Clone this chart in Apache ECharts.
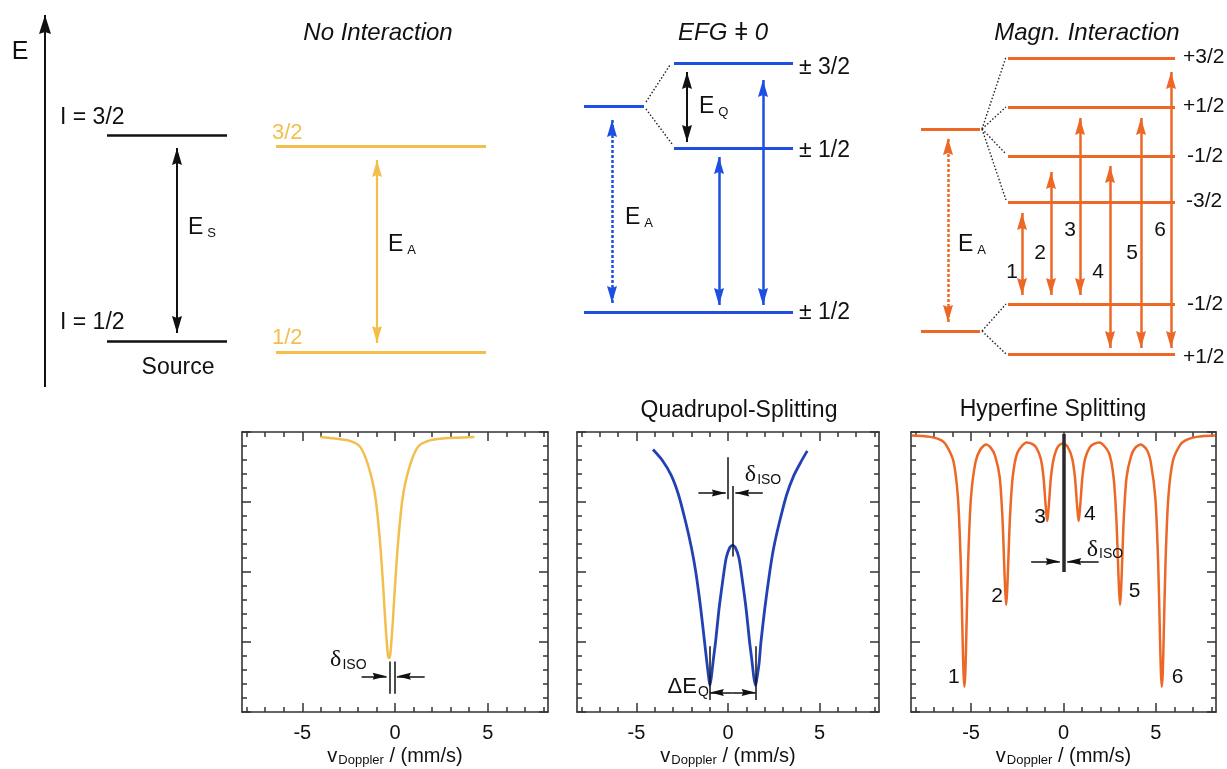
<!DOCTYPE html>
<html>
<head>
<meta charset="utf-8">
<script src="https://cdn.jsdelivr.net/npm/echarts@6/dist/echarts.min.js"></script>
<style>
  html, body { margin: 0; padding: 0; background: #fff; }
  #chart { width: 1227px; height: 769px; }
</style>
</head>
<body>
<div id="chart"></div>
<script>
// ---------------------------------------------------------------------------
// Level scheme: horizontal position (0–1227) and energy E (0–400, upward)
// levels: [x start, x end, E]
const sourceLevels = [[107, 227, 265], [107, 227, 59]];
const bareLevels = [[276, 486, 254], [276, 486, 48]];
const quadLevels = [[584, 644, 294], [674, 793, 337], [674, 793, 252], [584, 793, 88]];
const magnLevels = [[921, 980, 271], [921, 980, 69],
  [1008, 1175, 342], [1008, 1175, 293], [1008, 1175, 244], [1008, 1175, 198],
  [1008, 1175, 96], [1008, 1175, 46]];
// splitting guides: [x0, E0, x1, E1]
const quadSplitLinks = [[646, 298, 670, 335], [646, 291, 672, 256]];
const magnSplitLinks = [[982, 271, 1006, 343], [982, 271, 1006, 293], [982, 271, 1006, 246],
  [982, 271, 1006, 200], [982, 69, 1006, 96], [982, 69, 1006, 46]];
// transitions: [x, E low tip, E high tip]
const energyAxis = [[45, 13, 385]];
const sourceTransition = [[177, 67, 252]];
const bareTransition = [[377, 57, 240]];
const quadSplitGap = [[687, 258, 328]];
const quadMeanTransition = [[612, 97, 280]];
const quadTransitions = [[719, 95, 243], [763, 95, 320]];
const magnMeanTransition = [[948, 78, 262]];
const magnTransitions = [[1022, 105, 187], [1051, 105, 228], [1080, 105, 282],
  [1110, 52, 234], [1141, 52, 282], [1171, 52, 328]];
// texts of the level scheme: [x, E, text, align, style]
const diagramLabels = [
  [20, 348, 'E', 'center', 'big'],
  [60, 282, 'I = 3/2', 'left', 'large'],
  [60, 77, 'I = 1/2', 'left', 'large'],
  [178, 32, 'Source', 'center', 'large'],
  [188, 172, '{e|E}{s|S}', 'left', 'ink'],
  [272, 267, '3/2', 'left', 'yellow'],
  [272, 62, '1/2', 'left', 'yellow'],
  [388, 155, '{e|E}{s|A}', 'left', 'ink'],
  [699, 293, '{e|E}{s|Q}', 'left', 'ink'],
  [625, 182, '{e|E}{s|A}', 'left', 'ink'],
  [799, 332, '± 3/2', 'left', 'large'],
  [799, 249, '± 1/2', 'left', 'large'],
  [799, 87, '± 1/2', 'left', 'large'],
  [958, 155, '{e|E}{s|A}', 'left', 'ink'],
  [1183, 343, '+3/2', 'left', 'ink'],
  [1183, 294, '+1/2', 'left', 'ink'],
  [1187, 244, '-1/2', 'left', 'ink'],
  [1186, 199, '-3/2', 'left', 'ink'],
  [1187, 96, '-1/2', 'left', 'ink'],
  [1183, 43, '+1/2', 'left', 'ink'],
  [1012, 128, '1', 'center', 'ink'],
  [1040, 147, '2', 'center', 'ink'],
  [1070, 170, '3', 'center', 'ink'],
  [1098, 128, '4', 'center', 'ink'],
  [1132, 147, '5', 'center', 'ink'],
  [1160, 170, '6', 'center', 'ink']
];
const panelTitles = [
  ['No Interaction', 378, 33, true],
  ['EFG ǂ 0', 723, 33, true],
  ['Magn. Interaction', 1087, 33, true],
  ['Quadrupol-Splitting', 739, 411, false],
  ['Hyperfine Splitting', 1053, 410, false]
];

// ---------------------------------------------------------------------------
// Spectra: transmission (a.u.) versus Doppler velocity (mm/s)
const velocityMajor = [-5, 0, 5];
const velocityMinor = [-8, -7, -6, -4, -3, -2, -1, 1, 2, 3, 4, 6, 7, 8];
const singleLine = [
  [-4.02, 3.93], [-3.32, 3.91], [-2.52, 3.88], [-1.92, 3.80], [-1.57, 3.62], [-1.22, 3.30],
  [-1.02, 3.00], [-0.82, 2.47], [-0.72, 2.12], [-0.62, 1.72], [-0.52, 1.28], [-0.42, 0.92],
  [-0.37, 0.80], [-0.32, 0.77], [-0.27, 0.80], [-0.22, 0.92], [-0.12, 1.28], [-0.02, 1.72],
  [0.08, 2.12], [0.18, 2.47], [0.38, 3.00], [0.58, 3.30], [0.93, 3.62], [1.28, 3.80],
  [1.88, 3.88], [2.68, 3.91], [4.28, 3.93]
];
const quadDoublet = [
  [-4.10, 3.75], [-3.60, 3.60], [-3.10, 3.38], [-2.70, 3.10], [-2.30, 2.70], [-2.00, 2.35],
  [-1.76, 2.00], [-1.50, 1.50], [-1.28, 1.00], [-1.15, 0.70], [-1.05, 0.48], [-0.99, 0.38],
  [-0.92, 0.48], [-0.80, 0.75], [-0.68, 1.00], [-0.50, 1.45], [-0.30, 1.85], [-0.10, 2.20],
  [0.10, 2.35], [0.25, 2.38], [0.40, 2.35], [0.60, 2.20], [0.80, 1.85], [1.00, 1.45],
  [1.18, 1.00], [1.30, 0.75], [1.42, 0.48], [1.51, 0.38], [1.58, 0.48], [1.70, 0.70],
  [1.80, 1.00], [2.02, 1.50], [2.28, 2.00], [2.50, 2.35], [2.80, 2.70], [3.20, 3.10],
  [3.60, 3.38], [4.00, 3.58], [4.33, 3.73]
];
const hyperSextet = [
  [-8.2, 3.95], [-7.5, 3.94], [-7.0, 3.92], [-6.6, 3.88], [-6.36, 3.82], [-5.96, 3.59],
  [-5.71, 3.06], [-5.56, 2.15], [-5.46, 1.07], [-5.41, 0.56], [-5.36, 0.36], [-5.31, 0.56],
  [-5.26, 1.07], [-5.16, 2.14], [-5.01, 3.05], [-4.76, 3.57], [-4.5, 3.75], [-4.2, 3.82],
  [-3.95, 3.78], [-3.7, 3.66], [-3.45, 3.35], [-3.3, 2.76], [-3.2, 2.05], [-3.15, 1.72],
  [-3.1, 1.53], [-3.05, 1.72], [-3.0, 2.05], [-2.9, 2.76], [-2.75, 3.35], [-2.5, 3.7],
  [-2.0, 3.85], [-1.7, 3.83], [-1.48, 3.78], [-1.23, 3.62], [-1.08, 3.35], [-0.98, 3.0],
  [-0.93, 2.84], [-0.88, 2.73], [-0.83, 2.84], [-0.78, 3.0], [-0.68, 3.35], [-0.53, 3.62],
  [-0.3, 3.79], [-0.03, 3.84], [0.22, 3.79], [0.47, 3.62], [0.62, 3.35], [0.72, 3.0],
  [0.77, 2.84], [0.82, 2.73], [0.87, 2.84], [0.92, 3.0], [1.02, 3.35], [1.17, 3.62],
  [1.42, 3.78], [1.65, 3.83], [1.94, 3.85], [2.46, 3.7], [2.71, 3.35], [2.86, 2.76],
  [2.96, 2.05], [3.01, 1.72], [3.06, 1.53], [3.11, 1.72], [3.16, 2.05], [3.26, 2.76],
  [3.41, 3.35], [3.66, 3.66], [3.9, 3.78], [4.18, 3.82], [4.5, 3.75], [4.72, 3.57],
  [4.97, 3.05], [5.12, 2.14], [5.22, 1.07], [5.27, 0.56], [5.32, 0.36], [5.37, 0.56],
  [5.42, 1.07], [5.52, 2.15], [5.67, 3.06], [5.92, 3.59], [6.32, 3.82], [6.6, 3.88],
  [7.0, 3.92], [7.5, 3.94], [8.2, 3.95]
];
// spectrum annotations
const singleIsoBars = [[-0.3, 0.26, 0.72], [0.0, 0.26, 0.72]];        // [x, y0, y1]
const singleIsoArrows = [[-1.8, -0.45, 0.51], [1.6, 0.1, 0.51]];      // [tail x, tip x, y]
const singleTexts = [[-3.5, 0.74, '{d|δ}{s|ISO}', 'left']];
const quadIsoBars = [[0.0, 3.04, 3.64], [0.26, 2.22, 3.23]];
const quadIsoArrows = [[-1.62, -0.12, 3.13], [1.9, 0.4, 3.13]];
const quadSplitBars = [[-0.99, 0.17, 0.94], [1.51, 0.17, 0.94]];
const quadSplitArrows = [[0.26, -0.99, 0.28], [0.26, 1.51, 0.28]];
const quadTexts = [[0.92, 3.39, '{d|δ}{s|ISO}', 'left'], [-1.05, 0.36, '{q|ΔE}{s|Q}', 'right']];
const hyperIsoBars = [[0.0, 2.0, 3.97]];
const hyperIsoArrows = [[-1.75, -0.2, 2.15], [1.9, 0.2, 2.15]];
const hyperTexts = [[1.26, 2.32, '{d|δ}{s|ISO}', 'left'],
  [-5.93, 0.5, '1', 'center'], [-3.59, 1.65, '2', 'center'], [-1.26, 2.78, '3', 'center'],
  [1.42, 2.82, '4', 'center'], [3.84, 1.72, '5', 'center'], [6.17, 0.5, '6', 'center']];

// ---------------------------------------------------------------------------
const FONT = "'Liberation Sans', Arial, sans-serif";
const SERIF = "'Liberation Serif', 'DejaVu Serif', serif";
const INK = '#111111';
const FRAME = '#333333';
const YELLOW = '#f2bf4c';
const BLUE = '#1c4fe2';
const BLUE_CURVE = '#2242b4';
const ORANGE = '#ec6826';
const VMIN = -8.25, VMAX = 8.25;

const HEAD = {
  up: 'path://M0,0 L6,18 L0,16 L-6,18 Z',
  down: 'path://M0,18 L6,0 L0,2 L-6,0 Z',
  right: 'path://M18,0 L0,6 L2,0 L0,-6 Z',
  left: 'path://M0,0 L18,-6 L16,0 L18,6 Z'
};

function axesOf(p) { return { xAxisIndex: p.x, yAxisIndex: p.y }; }
const DIAGRAM = { x: 0, y: 0 };
const PANELS = [{ x: 1, y: 1 }, { x: 5, y: 3 }, { x: 9, y: 5 }];

function segments(ax, segs, color, width, dash, z) {
  return Object.assign({
    type: 'lines', coordinateSystem: 'cartesian2d', silent: true, z: z || 3,
    lineStyle: { color, width, opacity: 1, curveness: 0, type: dash || 'solid' },
    data: segs.map(c => ({ coords: c }))
  }, axesOf(ax));
}

function heads(ax, pts, color, w, h) {
  return Object.assign({
    type: 'scatter', silent: true, z: 6,
    itemStyle: { color, opacity: 1 },
    data: pts.map(([x, y, dir]) => {
      const vertical = dir === 'up' || dir === 'down';
      const off = dir === 'up' ? [0, h / 2] : dir === 'down' ? [0, -h / 2]
        : dir === 'right' ? [-h / 2, 0] : [h / 2, 0];
      return { value: [x, y], symbol: HEAD[dir], symbolSize: vertical ? [w, h] : [h, w], symbolOffset: off };
    })
  }, axesOf(ax));
}

// vertical double (or single) arrows
function vArrows(ax, list, color, width, w, h, dash, single) {
  const pts = [];
  list.forEach(([x, lo, hi]) => {
    pts.push([x, hi, 'up']);
    if (!single) pts.push([x, lo, 'down']);
  });
  return [
    segments(ax, list.map(([x, lo, hi]) => [[x, lo], [x, hi]]), color, width, dash, 4),
    heads(ax, pts, color, w, h)
  ];
}

// horizontal arrows [tail, tip, y]
function hArrows(ax, list, color, width, w, h) {
  return [
    segments(ax, list.map(([a, b, y]) => [[a, y], [b, y]]), color, width, null, 4),
    heads(ax, list.map(([a, b, y]) => [b, y, b > a ? 'right' : 'left']), color, w, h)
  ];
}

function bars(ax, list, color, width) {
  return segments(ax, list.map(([x, a, b]) => [[x, a], [x, b]]), color, width, null, 4);
}

const textStyles = {
  ink: { fontSize: 21, color: INK },
  large: { fontSize: 23, color: INK },
  big: { fontSize: 25, color: INK },
  yellow: { fontSize: 22, color: YELLOW }
};
const subRich = {
  e: { fontSize: 23, color: INK, fontFamily: FONT },
  s: { fontSize: 13, color: INK, fontFamily: FONT, padding: [11, 0, 0, 4] }
};

function texts(ax, list) {
  return Object.assign({
    type: 'scatter', silent: true, z: 7, symbolSize: 1,
    itemStyle: { color: 'rgba(0,0,0,0)', opacity: 1 },
    label: { show: true, position: 'inside', verticalAlign: 'middle', fontFamily: FONT, rich: subRich },
    data: list.map(([x, y, t, align, st]) => ({
      value: [x, y],
      label: Object.assign({ formatter: t, align }, textStyles[st || 'ink'])
    }))
  }, axesOf(ax));
}

function plotTexts(ax, list) {
  const isoRich = {
    d: { fontSize: 24, color: INK, fontFamily: SERIF },
    q: { fontSize: 22, color: INK, fontFamily: FONT },
    s: { fontSize: 14, color: INK, fontFamily: FONT, padding: [10, 0, 0, 1] }
  };
  return Object.assign({
    type: 'scatter', silent: true, z: 7, symbolSize: 1,
    itemStyle: { color: 'rgba(0,0,0,0)', opacity: 1 },
    label: { show: true, position: 'inside', verticalAlign: 'middle', fontFamily: FONT, fontSize: 21, color: INK, rich: isoRich },
    data: list.map(([x, y, t, align]) => ({ value: [x, y], label: { formatter: t, align } }))
  }, axesOf(ax));
}

function levelLines(levels, color, width) {
  return segments(DIAGRAM, levels.map(([a, b, e]) => [[a, e], [b, e]]), color, width, null, 3);
}
function links(list) {
  return segments(DIAGRAM, list.map(([a, e0, b, e1]) => [[a, e0], [b, e1]]), '#222', 1.4, [1.5, 2], 2);
}

function curve(ax, data, color, width) {
  return Object.assign({
    type: 'line', data, showSymbol: false, smooth: 0.25, silent: true, z: 3,
    lineStyle: { color, width: width || 2.5 }
  }, axesOf(ax));
}

// ---------------------------------------------------------------------------
const frameLine = { show: true, onZero: false, lineStyle: { color: FRAME, width: 1.6 } };
const tickLine = { color: FRAME, width: 1.5 };

function panelXAxes(g) {
  const common = { gridIndex: g, type: 'value', min: VMIN, max: VMAX, splitLine: { show: false } };
  const major = { show: true, inside: true, length: 9, customValues: velocityMajor, lineStyle: tickLine };
  const minor = { show: true, inside: true, length: 5, customValues: velocityMinor, lineStyle: tickLine };
  return [
    Object.assign({}, common, {
      position: 'bottom', axisLine: frameLine, axisTick: major,
      axisLabel: { show: true, customValues: velocityMajor, fontSize: 20, color: INK, margin: 11, fontFamily: FONT },
      name: '{v|v}{s|Doppler}{v| / (mm/s)}', nameLocation: 'middle', nameGap: 33,
      nameTextStyle: {
        fontFamily: FONT, color: INK, fontSize: 20,
        rich: { v: { fontSize: 20, color: INK, fontFamily: FONT }, s: { fontSize: 13, color: INK, fontFamily: FONT, padding: [9, 0, 0, 1] } }
      }
    }),
    Object.assign({}, common, { position: 'bottom', axisLine: { show: false, onZero: false }, axisTick: minor, axisLabel: { show: false } }),
    Object.assign({}, common, { position: 'top', axisLine: frameLine, axisTick: major, axisLabel: { show: false } }),
    Object.assign({}, common, { position: 'top', axisLine: { show: false, onZero: false }, axisTick: minor, axisLabel: { show: false } })
  ];
}
function panelYAxes(g) {
  const common = {
    gridIndex: g, type: 'value', min: 0, max: 4, interval: 1,
    splitLine: { show: false }, minorSplitLine: { show: false },
    axisLabel: { show: false }, axisLine: frameLine,
    axisTick: { show: true, inside: true, length: 9, lineStyle: tickLine },
    minorTick: { show: true, splitNumber: 5, length: 5, lineStyle: tickLine }
  };
  return [Object.assign({}, common, { position: 'left' }), Object.assign({}, common, { position: 'right' })];
}

const series = [
  // level scheme
  ...vArrows(DIAGRAM, energyAxis, INK, 2, 12, 19, null, true),
  levelLines(sourceLevels, INK, 2.5),
  levelLines(bareLevels, YELLOW, 3),
  levelLines(quadLevels, BLUE, 3),
  levelLines(magnLevels, ORANGE, 3),
  links(quadSplitLinks),
  links(magnSplitLinks),
  ...vArrows(DIAGRAM, sourceTransition, INK, 2, 10, 17),
  ...vArrows(DIAGRAM, bareTransition, YELLOW, 2.2, 10, 17),
  ...vArrows(DIAGRAM, quadSplitGap, INK, 2, 10, 17),
  ...vArrows(DIAGRAM, quadMeanTransition, BLUE, 2.5, 10, 17, [3, 2]),
  ...vArrows(DIAGRAM, quadTransitions, BLUE, 2.5, 10, 17),
  ...vArrows(DIAGRAM, magnMeanTransition, ORANGE, 2.5, 10, 17, [3, 2]),
  ...vArrows(DIAGRAM, magnTransitions, ORANGE, 2.5, 10, 17),
  texts(DIAGRAM, diagramLabels),
  // single line
  curve(PANELS[0], singleLine, YELLOW, 2.5),
  bars(PANELS[0], singleIsoBars, INK, 1.5),
  ...hArrows(PANELS[0], singleIsoArrows, INK, 1.5, 7, 14),
  plotTexts(PANELS[0], singleTexts),
  // quadrupole doublet
  curve(PANELS[1], quadDoublet, BLUE_CURVE, 2.8),
  bars(PANELS[1], quadIsoBars, INK, 1.5),
  ...hArrows(PANELS[1], quadIsoArrows, INK, 1.5, 7, 14),
  bars(PANELS[1], quadSplitBars, INK, 1.5),
  ...hArrows(PANELS[1], quadSplitArrows, INK, 1.5, 7, 14),
  plotTexts(PANELS[1], quadTexts),
  // magnetic sextet
  curve(PANELS[2], hyperSextet, ORANGE, 2.5),
  bars(PANELS[2], hyperIsoBars, '#2a2a2a', 3.5),
  ...hArrows(PANELS[2], hyperIsoArrows, INK, 1.5, 7, 14),
  plotTexts(PANELS[2], hyperTexts)
];

const option = {
  animation: false,
  backgroundColor: '#ffffff',
  textStyle: { fontFamily: FONT },
  grid: [
    { left: 0, top: 0, width: 1227, height: 400 },
    { left: 242, top: 432, width: 306, height: 280 },
    { left: 577, top: 432, width: 302, height: 280 },
    { left: 911, top: 432, width: 305, height: 280 }
  ],
  xAxis: [{ gridIndex: 0, type: 'value', min: 0, max: 1227, show: false },
    ...panelXAxes(1), ...panelXAxes(2), ...panelXAxes(3)],
  yAxis: [{ gridIndex: 0, type: 'value', min: 0, max: 400, show: false },
    ...panelYAxes(1), ...panelYAxes(2), ...panelYAxes(3)],
  graphic: panelTitles.map(([text, x, y, italic]) => ({
    type: 'text', x, y, silent: true, z: 10,
    style: {
      text, fill: INK, font: (italic ? 'italic 24px ' : '23px ') + FONT,
      align: 'center', verticalAlign: 'middle', textAlign: 'center', textVerticalAlign: 'middle'
    }
  })),
  series
};

const chart = echarts.init(document.getElementById('chart'), null, { renderer: 'canvas' });
chart.setOption(option);
</script>
</body>
</html>
